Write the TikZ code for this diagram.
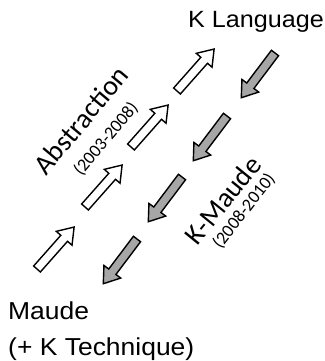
\documentclass[tikz,border=0pt]{standalone}
\usepackage{fontspec}
\setmainfont{Carlito}
\newfontfamily\arialf{Liberation Sans}
\definecolor{arrgray}{RGB}{166,166,166}
\begin{document}
\begin{tikzpicture}[x=1pt,y=-1pt,
  blockarr/.pic={\draw[pic actions] (0,-4.5) -- (41,-4.5) -- (41,-10.5) -- (56,0) -- (41,10.5) -- (41,4.5) -- (0,4.5) -- cycle;},
  uparr/.style={draw=black,fill=white,line width=1.4pt,line join=miter,rotate=48.5},
  downarr/.style={draw=black,fill=arrgray,line width=1.4pt,line join=miter,rotate=-127},
  lbl/.style={inner sep=0pt,font=\fontsize{28}{30}\selectfont},
  hlbl/.style={inner sep=0pt,anchor=base west,font=\arialf\fontsize{24.5}{28}\selectfont},
  yr/.style={inner sep=0pt,font=\fontsize{18}{20}\selectfont}]
\useasboundingbox (0,0) rectangle (324,361);
% white arrows (up)
\pic[uparr] (u1) at (177,91) {blockarr};
\pic[uparr] (u2) at (131,147) {blockarr};
\pic[uparr] (u3) at (85,207) {blockarr};
\pic[uparr] (u4) at (37,269) {blockarr};
% gray arrows (down)
\pic[downarr] (d1) at (275,53) {blockarr};
\pic[downarr] (d2) at (227,116) {blockarr};
\pic[downarr] (d3) at (182,177) {blockarr};
\pic[downarr] (d4) at (137,239) {blockarr};
% labels
\node[hlbl,font=\arialf\fontsize{23.5}{28}\selectfont] (klang) at (188,28) {\scalebox{1.07}[1]{K Language}};
\node[hlbl] (maude) at (8,319) {\scalebox{1.08}[1]{Maude}};
\node[hlbl] (ktech) at (8,355) {\scalebox{1.08}[1]{(+ K Technique)}};
\node[lbl,rotate=50] (abs) at (81,120) {Abstraction};
\node[yr,rotate=50] (absy) at (106,139) {(2003-2008)};
\node[lbl,rotate=51] (km) at (223,200) {K-Maude};
\node[yr,rotate=52] (kmy) at (244,211) {(2008-2010)};
\end{tikzpicture}
\end{document}
